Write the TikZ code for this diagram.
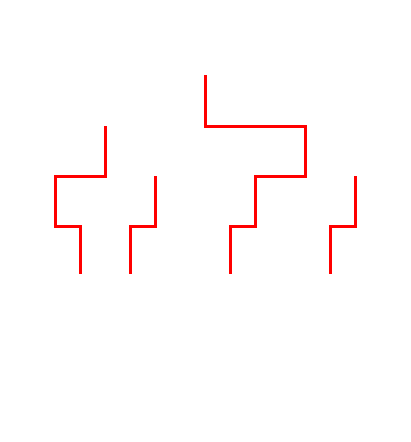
\documentclass[tikz,border=0pt]{standalone}
\begin{document}
\begin{tikzpicture}[x=1pt,y=-1pt,
  edge/.style={draw=red, line width=3pt, line join=miter}]
\useasboundingbox (0,0) rectangle (410,442);
\coordinate (r) at (205,75);
\coordinate (a) at (105,126);
\coordinate (b) at (305,126);
\coordinate (aa) at (55,176);
\coordinate (ab) at (155,176);
\coordinate (ba) at (255,176);
\coordinate (bb) at (355,176);
\coordinate (l1) at (80,274);
\coordinate (l2) at (130,274);
\coordinate (l3) at (230,274);
\coordinate (l4) at (330,274);
\draw[edge] (r) |- (b) |- (ba) |- (230,226) -- (l3);
\draw[edge] (a) |- (aa) |- (80,226) -- (l1);
\draw[edge] (ab) |- (130,226) -- (l2);
\draw[edge] (bb) |- (330,226) -- (l4);
\end{tikzpicture}
\end{document}
